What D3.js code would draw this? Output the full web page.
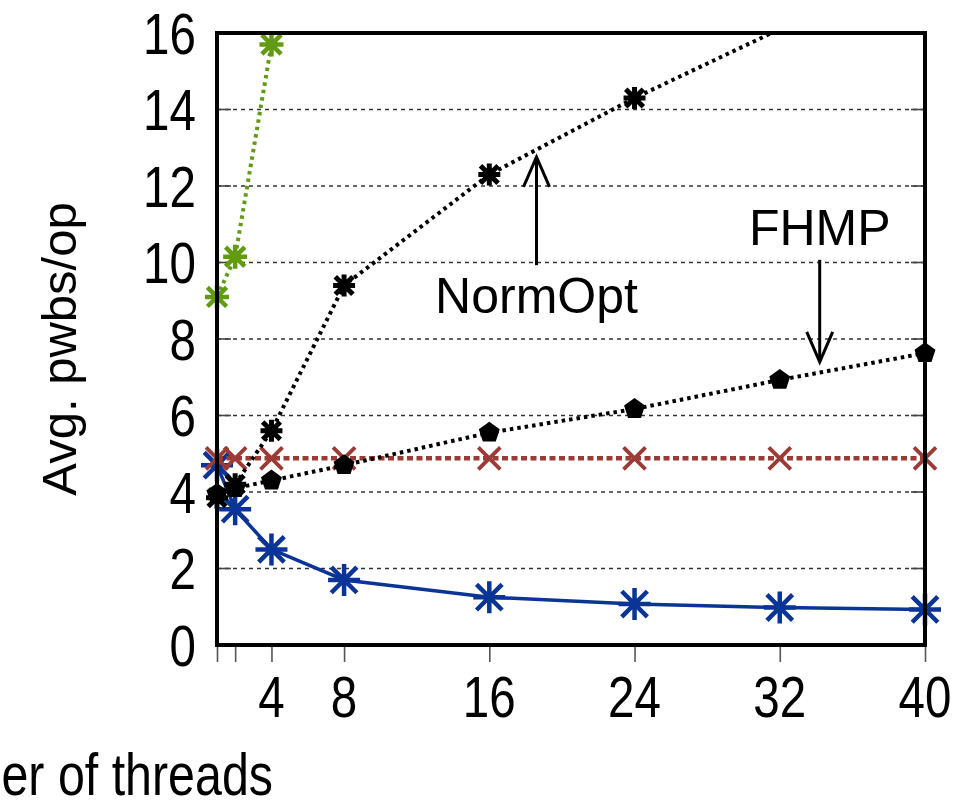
<!DOCTYPE html>
<html>
<head>
<meta charset="utf-8">
<script src="https://cdn.jsdelivr.net/npm/d3@7"></script>
<style>
  body { margin: 0; background: #fff; }
  svg { display: block; }
  .narrow { font-family: "Liberation Sans", Arial, sans-serif; }
  .wide { font-family: "Liberation Sans", Arial, sans-serif; }
</style>
</head>
<body>
<div id="vis"></div>
<script>
// thread counts on the x axis
const threads = [1, 2, 4, 8, 16, 24, 32, 40];
const xTicks = [1, 2, 4, 8, 16, 24, 32, 40];
const xTickLabels = [4, 8, 16, 24, 32, 40];
const yTicks = [0, 2, 4, 6, 8, 10, 12, 14, 16];

// avg pwbs per op
const blueStar = [4.7, 3.55, 2.5, 1.7, 1.25, 1.07, 0.98, 0.93];
const redCross = [4.88, 4.88, 4.88, 4.88, 4.88, 4.88, 4.88, 4.88];
const greenStar = [9.1, 10.15, 15.7];
const normOpt = [3.85, 4.2, 5.6, 9.4, 12.3, 14.3, 16.1, 17.9];
const fhmp = [3.95, 4.1, 4.3, 4.7, 5.55, 6.17, 6.93, 7.63];

// annotations: [x, y] in data units
const normOptLabel = { text: "NormOpt", x: 18.6, y: 8.68, from: 9.93, to: 12.76 };
const fhmpLabel = { text: "FHMP", x: 34.2, y: 10.46, from: 10.07, to: 7.4 };

////////////////////////////////////////
/////////////// Defaults ///////////////
////////////////////////////////////////

const options = {
  width: 956,
  height: 801,
  margin: { top: 33, right: 31, bottom: 156, left: 217 },
  narrow: 0.82, // horizontal squeeze for the condensed tick font
};

const svg = d3
  .select("#vis")
  .append("svg")
  .attr("width", options.width)
  .attr("height", options.height);

const x = d3
  .scaleLinear()
  .domain([1, 40])
  .range([options.margin.left, options.width - options.margin.right]);

const y = d3
  .scaleLinear()
  .domain([0, 16])
  .range([options.height - options.margin.bottom, options.margin.top]);

const [x0, x1] = x.range();
const [y0, y1] = y.range();

////////////////////////////////////////
////////////// Grid / Axes /////////////
////////////////////////////////////////

// dashed grid
svg
  .append("g")
  .selectAll("line")
  .data(yTicks.slice(1, -1))
  .join("line")
  .attr("x1", x0)
  .attr("x2", x1)
  .attr("y1", (d) => y(d))
  .attr("y2", (d) => y(d))
  .attr("stroke", "#333")
  .attr("stroke-width", 1.4)
  .attr("stroke-dasharray", "4,4");

// inner mirrored ticks on both sides
const inner = svg.append("g").attr("stroke", "#444").attr("stroke-width", 1.6);
yTicks.slice(1, -1).forEach((d) => {
  inner.append("line").attr("x1", x0).attr("x2", x0 + 14).attr("y1", y(d)).attr("y2", y(d));
  inner.append("line").attr("x1", x1 - 14).attr("x2", x1).attr("y1", y(d)).attr("y2", y(d));
});

// y tick labels
svg
  .append("g")
  .attr("class", "narrow")
  .selectAll("text")
  .data(yTicks)
  .join("text")
  .attr("transform", (d) => `translate(${x0 - 21},${y(d)}) scale(${options.narrow},1)`)
  .attr("dy", "0.36em")
  .attr("text-anchor", "end")
  .attr("font-size", 58)
  .text((d) => d);

// x axis ticks (outward) and labels
const xAxis = svg
  .append("g")
  .attr("transform", `translate(0,${y0})`)
  .call(d3.axisBottom(x).tickValues(xTicks).tickSize(17).tickFormat(""));
xAxis.select(".domain").remove();
xAxis.selectAll("line").attr("stroke", "#555").attr("stroke-width", 1.6);

svg
  .append("g")
  .attr("class", "narrow")
  .selectAll("text")
  .data(xTickLabels)
  .join("text")
  .attr("transform", (d) => `translate(${x(d)},${y0 + 72}) scale(${options.narrow},1)`)
  .attr("text-anchor", "middle")
  .attr("font-size", 58)
  .text((d) => d);

// axis titles
svg
  .append("text")
  .attr("class", "wide")
  .attr("transform", `translate(76,${(y0 + y1) / 2 + 10}) rotate(-90)`)
  .attr("text-anchor", "middle")
  .attr("font-size", 49)
  .text("Avg. pwbs/op");

svg
  .append("text")
  .attr("class", "narrow")
  .attr("transform", `translate(273,795) scale(${options.narrow},1)`)
  .attr("text-anchor", "end")
  .attr("font-size", 59)
  .text("Number of threads");

////////////////////////////////////////
////////////// Series //////////////////
////////////////////////////////////////

svg
  .append("clipPath")
  .attr("id", "plot-clip")
  .append("rect")
  .attr("x", x0)
  .attr("y", y1)
  .attr("width", x1 - x0)
  .attr("height", y0 - y1);

const series = [
  { values: blueStar, color: "#0a3495", width: 3.5, dash: null, marker: "star", r: 16, mw: 4.5 },
  { values: redCross, color: "#9b3b36", width: 4.5, dash: "6,3.5", marker: "cross", r: 11, mw: 3.8 },
  { values: greenStar, color: "#629a14", width: 4, dash: "3.5,4", marker: "star", r: 12, mw: 4.5 },
  { values: fhmp, color: "#000", width: 4, dash: "3.5,4", marker: "pentagon", r: 11, mw: 0 },
  { values: normOpt, color: "#000", width: 4, dash: "3.5,4", marker: "star", r: 11, mw: 5 },
];

const line = d3
  .line()
  .x((d) => x(d.t))
  .y((d) => y(d.v));

function markerPath(type, r) {
  const p = d3.path();
  if (type === "star") {
    p.moveTo(-r, 0); p.lineTo(r, 0);
    p.moveTo(0, -r); p.lineTo(0, r);
    p.moveTo(-r * 0.8, -r * 0.8); p.lineTo(r * 0.8, r * 0.8);
    p.moveTo(-r * 0.8, r * 0.8); p.lineTo(r * 0.8, -r * 0.8);
  } else if (type === "cross") {
    p.moveTo(-r, -r); p.lineTo(r, r);
    p.moveTo(-r, r); p.lineTo(r, -r);
  } else {
    for (let i = 0; i < 5; i++) {
      const a = -Math.PI / 2 + (i * 2 * Math.PI) / 5;
      const px = r * Math.cos(a);
      const py = r * Math.sin(a);
      if (i === 0) p.moveTo(px, py);
      else p.lineTo(px, py);
    }
    p.closePath();
  }
  return p.toString();
}

series.forEach((s) => {
  const pts = s.values.map((v, i) => ({ t: threads[i], v: v }));

  svg
    .append("path")
    .datum(pts)
    .attr("clip-path", "url(#plot-clip)")
    .attr("fill", "none")
    .attr("stroke", s.color)
    .attr("stroke-width", s.width)
    .attr("stroke-dasharray", s.dash)
    .attr("d", line);

  svg
    .append("g")
    .selectAll("path")
    .data(pts.filter((d) => d.v <= 16))
    .join("path")
    .attr("transform", (d) => `translate(${x(d.t)},${y(d.v)})`)
    .attr("d", markerPath(s.marker, s.r))
    .attr("fill", s.marker === "pentagon" ? s.color : "none")
    .attr("stroke", s.marker === "pentagon" ? "none" : s.color)
    .attr("stroke-width", s.mw);
});

// frame
svg
  .append("rect")
  .attr("x", x0)
  .attr("y", y1)
  .attr("width", x1 - x0)
  .attr("height", y0 - y1)
  .attr("fill", "none")
  .attr("stroke", "#000")
  .attr("stroke-width", 4);

////////////////////////////////////////
////////////// Annotations /////////////
////////////////////////////////////////

function arrow(a) {
  const g = svg.append("g").attr("stroke", "#000").attr("stroke-width", 3).attr("fill", "none");
  const ax = x(a.x);
  const yFrom = y(a.from);
  const yTo = y(a.to);
  const dir = yTo < yFrom ? 1 : -1;
  g.append("line").attr("x1", ax).attr("x2", ax).attr("y1", yFrom).attr("y2", yTo);
  g.append("path").attr(
    "d",
    `M${ax - 13},${yTo + dir * 30}L${ax},${yTo}L${ax + 13},${yTo + dir * 30}`
  );
  svg
    .append("text")
    .attr("class", "wide")
    .attr("x", ax)
    .attr("y", y(a.y))
    .attr("text-anchor", "middle")
    .attr("font-size", 50)
    .text(a.text);
}

arrow(normOptLabel);
arrow(fhmpLabel);
</script>
</body>
</html>
